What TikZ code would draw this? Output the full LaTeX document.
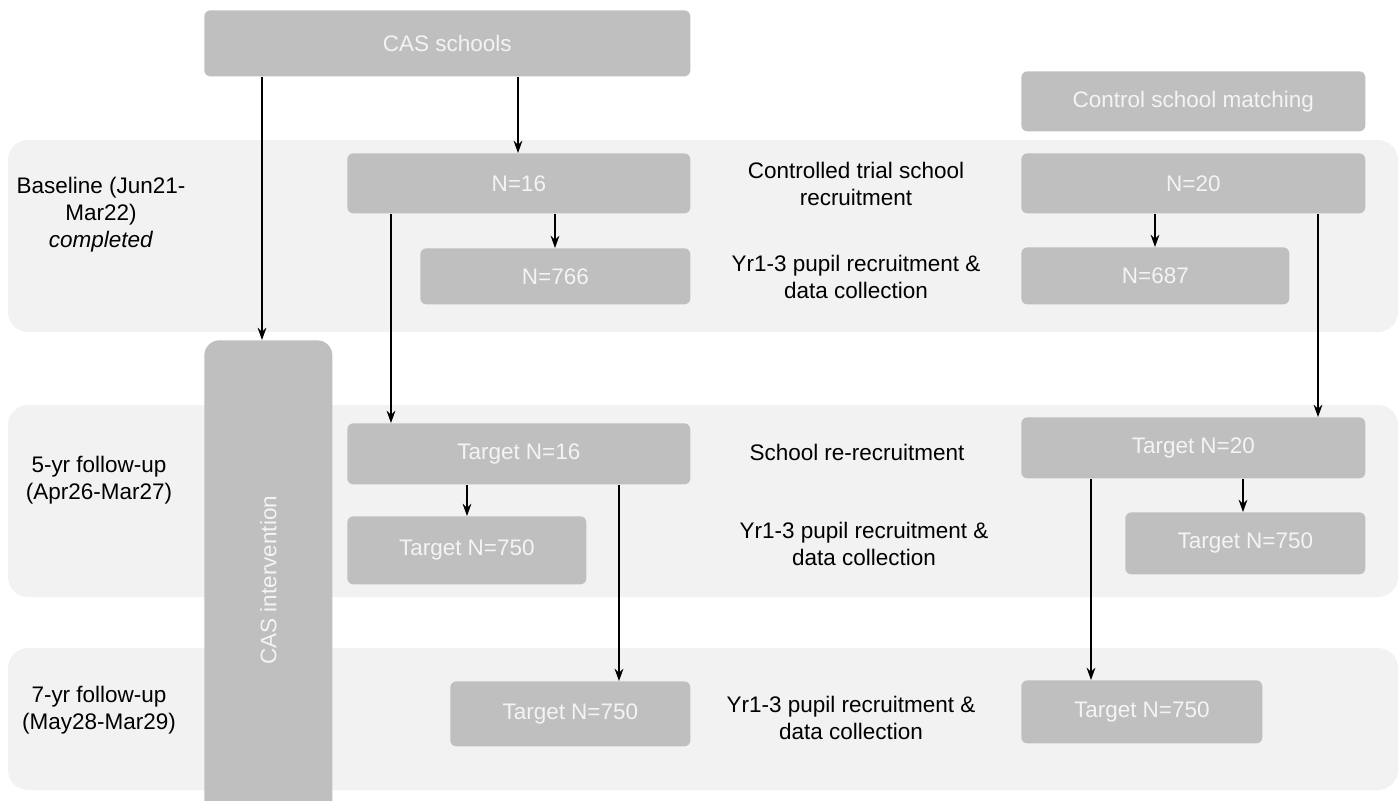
\documentclass[tikz,border=0pt]{standalone}
\usepackage{fontspec}
\setmainfont{Liberation Sans}
\usetikzlibrary{arrows.meta, positioning}
\definecolor{bandgray}{HTML}{F2F2F2}
\definecolor{boxgray}{HTML}{BFBFBF}
\definecolor{boxtext}{HTML}{F4F4F4}

\begin{document}
\begin{tikzpicture}[x=0.02cm, y=-0.02cm,
    box/.style={fill=boxgray, rounded corners=0.12cm, text=boxtext, anchor=north west,
        inner sep=0pt, font=\fontsize{12.8}{15.4}\selectfont},
    lbl/.style={align=center, font=\fontsize{12.8}{15.4}\selectfont},
    band/.style={fill=bandgray, rounded corners=0.4cm},
    arr/.style={-{Stealth[length=7pt, width=5pt]}, line width=0.8pt}]

\clip (0,0) rectangle (1400,801);

% Phase bands
\fill[band] (8,140) rectangle (1398,332);
\fill[band] (8,405) rectangle (1398,597);
\fill[band] (8,648) rectangle (1398,790);

% Top boxes
\node[box, minimum width=9.72cm, minimum height=1.32cm] (cas) at (204,10) {CAS schools};
\node[box, minimum width=6.88cm, minimum height=1.2cm] (ctrl) at (1021,71) {Control school matching};

% Intervention column
\node[box, rounded corners=0.3cm, minimum width=2.56cm, minimum height=9.6cm] (int) at (204,340) {};
\node[rotate=90, text=boxtext, font=\fontsize{12.8}{15.4}\selectfont] (intlbl) at (int.center) {CAS intervention};

% Baseline
\node[box, minimum width=6.86cm, minimum height=1.2cm] (n16) at (347,153) {N=16};
\node[box, minimum width=5.4cm, minimum height=1.12cm] (n766) at (420,248) {N=766};
\node[box, minimum width=6.88cm, minimum height=1.2cm] (n20) at (1021,153) {N=20};
\node[box, minimum width=5.36cm, minimum height=1.14cm] (n687) at (1021,247) {N=687};

% 5-yr follow-up
\node[box, minimum width=6.86cm, minimum height=1.22cm] (t16) at (347,423) {Target N=16};
\node[box, minimum width=4.78cm, minimum height=1.36cm] (t750a) at (347,516) {Target N=750};
\node[box, minimum width=6.88cm, minimum height=1.22cm] (t20) at (1021,417) {Target N=20};
\node[box, minimum width=4.8cm, minimum height=1.24cm] (t750b) at (1125,512) {Target N=750};

% 7-yr follow-up
\node[box, minimum width=4.8cm, minimum height=1.3cm] (t750c) at (450,681) {Target N=750};
\node[box, minimum width=4.82cm, minimum height=1.26cm] (t750d) at (1021,680) {Target N=750};

% Row labels
\node[lbl] (base) at (101,215) {Baseline (Jun21-\\Mar22)\\\textit{completed}};
\node[lbl] (fu5) at (99,480) {5-yr follow-up\\(Apr26-Mar27)};
\node[lbl] (fu7) at (99,710) {7-yr follow-up\\(May28-Mar29)};

% Step labels
\node[lbl] (rec) at (856,184) {Controlled trial school\\recruitment};
\node[lbl] (pup1) at (856,277) {Yr1-3 pupil recruitment \&\\data collection};
\node[lbl] (rerec) at (857,452) {School re-recruitment};
\node[lbl] (pup2) at (864,544) {Yr1-3 pupil recruitment \&\\data collection};
\node[lbl] (pup3) at (851,718) {Yr1-3 pupil recruitment \&\\data collection};

% Arrow columns
\coordinate (xa) at (262,0);
\coordinate (xb) at (518,0);
\coordinate (xc) at (555,0);
\coordinate (xd) at (391,0);
\coordinate (xe) at (1155,0);
\coordinate (xf) at (1318,0);
\coordinate (xg) at (467,0);
\coordinate (xh) at (619,0);
\coordinate (xi) at (1243,0);
\coordinate (xj) at (1091,0);

% Arrows
\draw[arr] (cas.south -| xa) -- (int.north -| xa);
\draw[arr] (cas.south -| xb) -- (n16.north -| xb);
\draw[arr] (n16.south -| xc) -- (n766.north -| xc);
\draw[arr] (n16.south -| xd) -- (t16.north -| xd);
\draw[arr] (n20.south -| xe) -- (n687.north -| xe);
\draw[arr] (n20.south -| xf) -- (t20.north -| xf);
\draw[arr] (t16.south -| xg) -- (t750a.north -| xg);
\draw[arr] (t16.south -| xh) -- (t750c.north -| xh);
\draw[arr] (t20.south -| xi) -- (t750b.north -| xi);
\draw[arr] (t20.south -| xj) -- (t750d.north -| xj);

\end{tikzpicture}
\end{document}
